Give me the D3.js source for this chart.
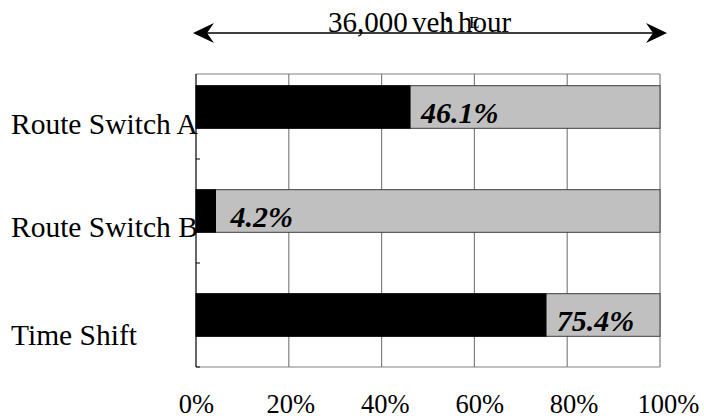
<!DOCTYPE html>
<html>
<head>
<meta charset="utf-8">
<script src="https://cdn.jsdelivr.net/npm/d3@7"></script>
<style>
  html, body { margin: 0; padding: 0; background: #fff; }
  svg { display: block; }
  text { font-family: "Liberation Serif", "Times New Roman", serif; fill: #000; }
</style>
</head>
<body>
<svg id="chart" width="704" height="419"></svg>
<script>
// Share of demand per strategy (percent of 36,000 veh/hour)
const categories = ["Route Switch A", "Route Switch B", "Time Shift"];
const shares = [46.1, 4.2, 75.4];
const tickValues = [0, 20, 40, 60, 80, 100];
const tickLabels = ["0%", "20%", "40%", "60%", "80%", "100%"];
const headlineParts = ["36,000", "veh", "hour"];

const svg = d3.select("#chart");

const plot = { left: 196, right: 660, top: 74, bottom: 367 };

const x = d3.scaleLinear().domain([0, 100]).range([plot.left, plot.right]);
// tick labels sit on a slightly wider spread than the grid
const xLabel = d3.scaleLinear().domain([0, 100]).range([plot.left, 668]);
const y = d3.scaleBand().domain(categories).range([55, plot.bottom]).padding(0);
const barH = y.bandwidth() * 0.41;
const barY = c => y(c) + (y.bandwidth() - barH) / 2;

// vertical grid lines
svg.append("g")
  .selectAll("line")
  .data(tickValues.slice(1))
  .join("line")
  .attr("x1", d => x(d)).attr("x2", d => x(d))
  .attr("y1", plot.top).attr("y2", plot.bottom)
  .attr("stroke", "#808080").attr("stroke-width", 1.2);

// top and bottom frame lines
svg.append("g")
  .selectAll("line")
  .data([plot.top, plot.bottom])
  .join("line")
  .attr("x1", plot.left).attr("x2", plot.right)
  .attr("y1", d => d).attr("y2", d => d)
  .attr("stroke", "#808080").attr("stroke-width", 1.2);

const rows = categories.map((c, i) => ({ cat: c, value: shares[i] }));

// grey remainder
svg.append("g")
  .selectAll("rect")
  .data(rows)
  .join("rect")
  .attr("x", d => x(d.value))
  .attr("y", d => barY(d.cat))
  .attr("width", d => x(100) - x(d.value))
  .attr("height", barH)
  .attr("fill", "#c0c0c0")
  .attr("stroke", "#404040").attr("stroke-width", 1);

// black share
svg.append("g")
  .selectAll("rect")
  .data(rows)
  .join("rect")
  .attr("x", x(0))
  .attr("y", d => barY(d.cat))
  .attr("width", d => x(d.value) - x(0))
  .attr("height", barH)
  .attr("fill", "#000")
  .attr("stroke", "#000").attr("stroke-width", 1);

// left axis line with small inward ticks between rows
svg.append("line")
  .attr("x1", plot.left).attr("x2", plot.left)
  .attr("y1", plot.top).attr("y2", plot.bottom)
  .attr("stroke", "#000").attr("stroke-width", 1.2);
svg.append("g")
  .selectAll("line")
  .data(categories.slice(1).map(c => y(c)).concat([plot.bottom]))
  .join("line")
  .attr("x1", plot.left).attr("x2", plot.left + 4)
  .attr("y1", d => d).attr("y2", d => d)
  .attr("stroke", "#000").attr("stroke-width", 1);

// category labels
svg.append("g")
  .selectAll("text")
  .data(categories)
  .join("text")
  .attr("x", 11)
  .attr("y", (d, i) => y(d) + y.bandwidth() / 2 + [27, 26, 30][i])
  .attr("font-size", 29.5)
  .text(d => d);

// value labels
svg.append("g")
  .selectAll("text")
  .data(rows)
  .join("text")
  .attr("x", d => x(d.value) + (d.value < 10 ? 15 : 11))
  .attr("y", d => barY(d.cat) + barH - 5)
  .attr("font-size", 30)
  .attr("font-weight", "bold")
  .attr("font-style", "italic")
  .text(d => d3.format(".1f")(d.value) + "%");

// percentage axis labels
const axis = d3.axisBottom(xLabel)
  .tickValues(tickValues)
  .tickFormat((d, i) => tickLabels[i])
  .tickSize(0)
  .tickPadding(0);
const ax = svg.append("g").attr("transform", "translate(0,413)").call(axis);
ax.select(".domain").remove();
ax.selectAll("text")
  .attr("dy", 0).attr("y", 0)
  .attr("font-size", 26.5)
  .attr("font-family", "'Liberation Serif', 'Times New Roman', serif")
  .attr("fill", "#000");

// double-headed arrow spanning the full scale
const arrowY = 33;
const ends = [{ tip: 193, dir: 1 }, { tip: 667, dir: -1 }];
svg.append("line")
  .attr("x1", ends[0].tip + 8).attr("x2", ends[1].tip - 8)
  .attr("y1", arrowY).attr("y2", arrowY)
  .attr("stroke", "#000").attr("stroke-width", 1.6);
svg.append("g")
  .selectAll("path")
  .data(ends)
  .join("path")
  .attr("d", e => d3.line()([
    [e.tip, arrowY],
    [e.tip + e.dir * 21, arrowY - 10],
    [e.tip + e.dir * 14, arrowY],
    [e.tip + e.dir * 21, arrowY + 10]
  ]) + "Z")
  .attr("fill", "#000");

// headline over the arrow; the unit separator renders as a dot and a boxed glyph
const head = svg.append("text")
  .attr("x", 328).attr("y", 32)
  .attr("font-size", 29);
head.append("tspan").text(headlineParts[0]);
head.append("tspan").attr("x", 412).text(headlineParts[1]);
head.append("tspan")
  .attr("x", 445).attr("dy", -6)
  .attr("font-size", 18).attr("font-weight", "bold")
  .text("•");
head.append("tspan")
  .attr("x", 458).attr("dy", 6)
  .text(headlineParts[2]);
head.append("tspan")
  .attr("x", 469).attr("dy", -4)
  .attr("font-size", 17)
  .text("E");
</script>
</body>
</html>
